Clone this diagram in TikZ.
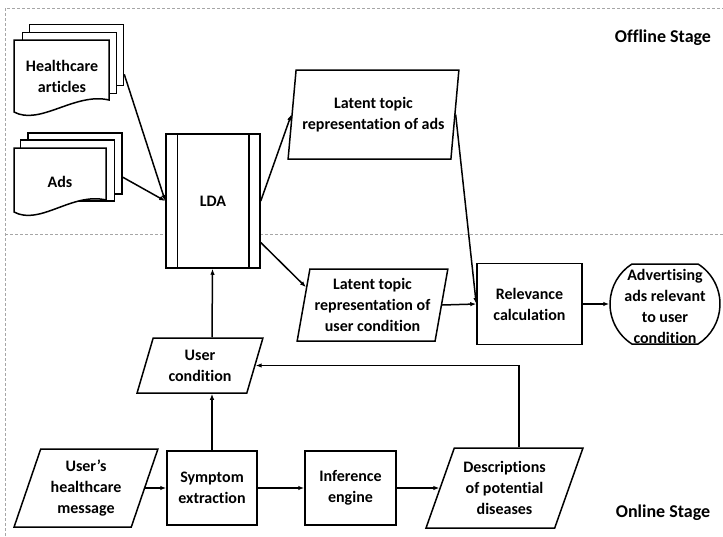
\documentclass[tikz,border=0pt]{standalone}
\usepackage{fontspec}
\setmainfont{Carlito}[Ligatures={TeX,NoCommon}]
\usetikzlibrary{shapes.geometric,shapes.misc,arrows.meta}

\begin{document}
\begin{tikzpicture}[x=1pt,y=-1pt,
        font=\fontsize{16}{21}\selectfont\bfseries,
        every node/.style={align=center},
        arrow/.style={line width=1.5pt,-{Latex[length=6pt,width=4.5pt]}},
        box/.style={draw,line width=1.5pt,fill=white,inner sep=2pt},
        sheet/.style={box,minimum width=94pt,minimum height=61pt},
        slanted/.style={box,trapezium,trapezium stretches=true,
            trapezium left angle=#1,trapezium right angle={\the\numexpr180-#1\relax}},
        stageline/.style={gray!70,densely dashed,line width=0.8pt}]
    \useasboundingbox (0,0) rectangle (723,536);

    % offline / online split
    \draw[stageline] (5,536) -- (5,8) -- (723,8);
    \draw[stageline] (5,234) -- (723,234);
    \node (offline) at (663,38) {\fontsize{18}{22}\selectfont Offline Stage};
    \node (online)  at (663,513) {\fontsize{18}{22}\selectfont Online Stage};

    % document stacks
    \node[sheet] (hcback) at (76.5,55) {};
    \node[sheet] (hcmid)  at (69.5,63) {};
    \draw[box] (14,112) -- (14,40) -- (109,40) -- (109,100) .. controls (75,92) and (40,126) .. cycle;
    \node (hc) at (62,76) {Healthcare\\articles};

    \node[sheet] (adsback) at (75,163.5) {};
    \node[sheet] (adsmid)  at (67.5,170.5) {};
    \draw[box] (14,212) -- (14,148) -- (106,148) -- (106,200) .. controls (72,192) and (40,226) .. cycle;
    \node (ads) at (60,182) {Ads};

    % topic model
    \node[box,minimum width=94pt,minimum height=134pt] (lda) at (213,201) {LDA};
    \draw[line width=1.5pt] ([xshift=12pt]lda.north west) -- ([xshift=12pt]lda.south west);
    \draw[line width=1.5pt] ([xshift=-12pt]lda.north east) -- ([xshift=-12pt]lda.south east);

    \node[slanted=79,minimum width=171pt,minimum height=89pt] (lads) at (373.5,114.5) {Latent topic\\representation of ads};
    \node[slanted=78,minimum width=151pt,minimum height=72pt] (lucond) at (372.5,305) {Latent topic\\representation of\\user condition};
    \node[box,minimum width=105pt,minimum height=81pt] (rel) at (529.5,304) {Relevance\\calculation};
    \node[box,rounded rectangle,rounded rectangle arc length=115,minimum width=114pt,minimum height=80pt,
        label={[align=center,yshift=-2pt]center:Advertising\\ads relevant\\to user\\condition}] (adv) at (665,304) {};

    % online chain
    \node[slanted=70,minimum width=144pt,minimum height=78pt] (msg) at (86,488) {User's\\healthcare\\message};
    \node[box,minimum width=90pt,minimum height=74pt] (sym) at (212,488) {Symptom\\extraction};
    \node[box,minimum width=91pt,minimum height=74pt] (inf) at (350.5,488) {Inference\\engine};
    \node[slanted=67,minimum width=157pt,minimum height=80pt] (desc) at (504.5,488) {Descriptions\\of potential\\diseases};
    \node[slanted=72,minimum width=126pt,minimum height=55pt] (ucond) at (200,365.5) {User\\condition};

    \draw[arrow] (hcback.-22) -- (lda.west);
    \draw[arrow] (adsback.-16) -- (lda.west);
    \draw[arrow] (lda.east) -- (lads.left side);
    \draw[arrow] (lda.-41) -- (lucond.165);
    \draw[arrow] (lads.right side) -- (rel.west);
    \draw[arrow] (lucond.right side) -- (rel.west);
    \draw[arrow] (rel) -- (adv);

    \draw[arrow] (msg.right side) -- (sym);
    \draw[arrow] (sym) -- (inf);
    \draw[arrow] (inf) -- (desc.left side);
    \draw[arrow] (sym) -- (sym |- ucond.south);
    \draw[arrow] (sym |- ucond.north) -- (lda);
    \draw[arrow] (desc.top side) |- (ucond.right side);

\end{tikzpicture}
\end{document}
